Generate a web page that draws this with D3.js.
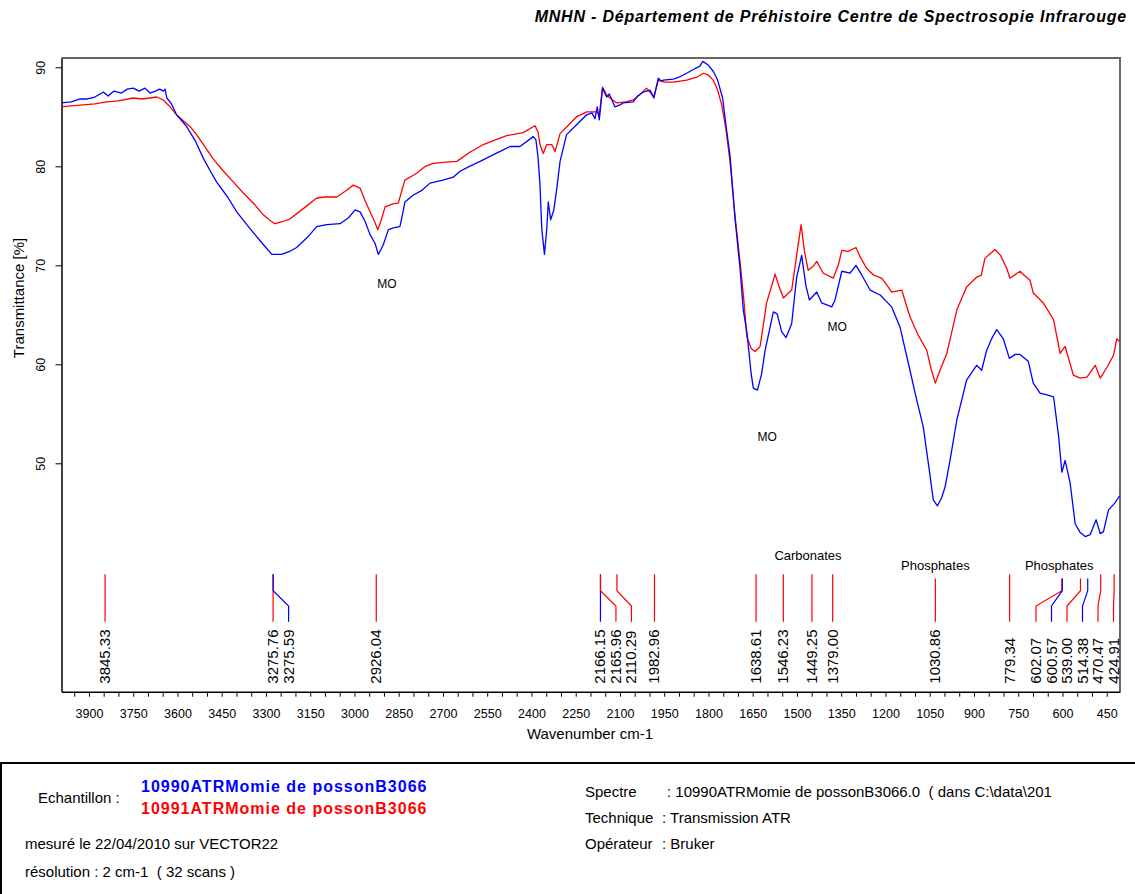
<!DOCTYPE html>
<html>
<head>
<meta charset="utf-8">
<script src="https://cdn.jsdelivr.net/npm/d3@7"></script>
<style>
  body { margin: 0; background: #fff; }
  svg text { font-family: "Liberation Sans", Arial, sans-serif; fill: #000; }
</style>
</head>
<body>
<div id="chart"></div>
<script>
// spectre 10990 (bleu)
const blueWavenumbers = [3993, 3960, 3930, 3905, 3880, 3851, 3835, 3815, 3790, 3770, 3750, 3730, 3710, 3693, 3675, 3660, 3648, 3642, 3636, 3620,
  3603, 3585, 3569, 3540, 3512, 3490, 3467, 3430, 3399, 3354, 3309, 3280, 3247, 3220, 3196, 3160, 3128, 3094, 3049, 3020,
  2998, 2981, 2965, 2947, 2930, 2919, 2910, 2902, 2885, 2865, 2846, 2838, 2829, 2800, 2770, 2744, 2700, 2665, 2642, 2610,
  2574, 2520, 2473, 2439, 2394, 2385, 2378, 2371, 2365, 2356, 2348, 2343, 2335, 2324, 2314, 2303, 2281, 2247, 2213, 2195,
  2185, 2177, 2170, 2159, 2150, 2145, 2136, 2117, 2100, 2089, 2055, 2040, 2021, 1998, 1985, 1970, 1960, 1953, 1919, 1900,
  1874, 1850, 1830, 1819, 1800, 1784, 1770, 1752, 1740, 1727, 1710, 1693, 1682, 1670, 1655, 1648, 1634, 1620, 1608, 1580,
  1567, 1552, 1537, 1518, 1501, 1484, 1470, 1458, 1433, 1416, 1382, 1371, 1348, 1320, 1300, 1280, 1252, 1218, 1179, 1151,
  1117, 1095, 1072, 1050, 1038, 1024, 1010, 998, 980, 958, 925, 891, 874, 857, 840, 823, 801, 780, 760, 744,
  716, 699, 676, 653, 630, 613, 602, 591, 574, 557, 540, 523, 506, 486, 472, 461, 444, 422, 407];
const blueTransmittance = [86.4, 86.5, 86.8, 86.8, 87.0, 87.5, 87.1, 87.6, 87.4, 87.8, 87.9, 87.6, 87.9, 87.4, 87.6, 87.8, 87.6, 87.8, 86.9, 86.3,
  85.2, 84.6, 84.0, 82.6, 80.8, 79.6, 78.4, 76.9, 75.4, 73.7, 72.1, 71.1, 71.1, 71.4, 71.8, 72.8, 73.9, 74.1, 74.2, 74.8,
  75.6, 75.4, 74.5, 73.1, 72.2, 71.1, 71.6, 72.1, 73.6, 73.8, 73.9, 75.0, 76.4, 77.1, 77.6, 78.3, 78.6, 78.9, 79.5, 80.0,
  80.5, 81.3, 82.0, 82.0, 83.0, 82.7, 81.0, 78.1, 73.7, 71.1, 73.7, 76.4, 74.6, 75.6, 77.8, 80.5, 83.2, 84.2, 85.2, 85.4,
  84.8, 86.0, 84.7, 87.9, 87.3, 87.0, 87.3, 86.0, 86.2, 86.4, 86.5, 87.1, 87.5, 87.7, 86.9, 88.9, 88.6, 88.7, 88.8, 89.0,
  89.4, 89.8, 90.1, 90.6, 90.2, 89.6, 88.8, 86.9, 84.0, 81.1, 74.7, 69.7, 65.5, 63.3, 59.0, 57.6, 57.4, 59.0, 61.4, 65.3,
  65.1, 63.3, 62.7, 64.1, 68.8, 71.0, 68.0, 66.5, 67.3, 66.2, 65.8, 66.5, 69.4, 69.2, 70.0, 69.0, 67.5, 67.0, 65.8, 63.8,
  59.4, 56.5, 53.7, 49.0, 46.3, 45.7, 46.5, 47.6, 50.5, 54.4, 58.4, 59.9, 59.4, 61.4, 62.6, 63.5, 62.6, 60.6, 61.0, 61.0,
  60.3, 58.1, 57.1, 56.9, 56.7, 52.7, 49.1, 50.3, 48.0, 43.9, 43.0, 42.6, 42.8, 44.3, 42.9, 43.1, 45.3, 46.0, 46.7];

// spectre 10991 (rouge)
const redWavenumbers = [3993, 3960, 3919, 3880, 3840, 3800, 3750, 3720, 3693, 3670, 3648, 3625, 3603, 3580, 3557, 3535, 3512, 3480, 3444, 3410,
  3377, 3340, 3309, 3285, 3269, 3245, 3218, 3170, 3128, 3100, 3060, 3030, 3004, 2981, 2965, 2947, 2930, 2921, 2910, 2896,
  2870, 2851, 2840, 2829, 2789, 2760, 2733, 2700, 2653, 2610, 2563, 2520, 2484, 2428, 2388, 2378, 2371, 2360, 2348, 2331,
  2320, 2303, 2280, 2247, 2213, 2179, 2170, 2159, 2145, 2134, 2111, 2080, 2055, 2030, 2010, 1985, 1970, 1950, 1919, 1874,
  1840, 1817, 1800, 1784, 1770, 1755, 1740, 1727, 1710, 1693, 1680, 1670, 1655, 1642, 1625, 1603, 1574, 1560, 1546, 1518,
  1501, 1486, 1475, 1462, 1445, 1433, 1411, 1377, 1360, 1348, 1326, 1300, 1285, 1264, 1240, 1213, 1195, 1179, 1145, 1117,
  1090, 1060, 1045, 1031, 1015, 992, 958, 925, 891, 875, 863, 829, 810, 789, 778, 744, 730, 710, 699, 665,
  630, 608, 591, 563, 540, 517, 489, 472, 449, 427, 416, 407];
const redTransmittance = [86.0, 86.1, 86.2, 86.3, 86.5, 86.6, 86.9, 86.8, 86.9, 87.0, 86.7, 86.0, 85.2, 84.6, 84.0, 83.2, 82.2, 80.8, 79.5, 78.4,
  77.3, 76.2, 75.1, 74.5, 74.2, 74.4, 74.7, 75.8, 76.8, 76.9, 76.9, 77.5, 78.1, 77.8, 76.6, 75.4, 74.3, 73.6, 74.5, 75.9,
  76.2, 76.3, 77.5, 78.6, 79.3, 80.0, 80.3, 80.4, 80.5, 81.4, 82.2, 82.7, 83.1, 83.4, 84.1, 83.5, 82.2, 81.3, 82.2, 82.2,
  81.5, 83.3, 84.0, 85.0, 85.5, 85.5, 85.2, 88.0, 87.2, 86.9, 86.4, 86.5, 86.7, 87.3, 87.9, 87.0, 88.7, 88.5, 88.5, 88.7,
  89.0, 89.4, 89.2, 88.7, 87.8, 86.2, 83.6, 80.5, 75.0, 70.4, 66.5, 62.8, 61.6, 61.3, 61.8, 66.2, 69.1, 67.8, 66.7, 67.5,
  71.0, 74.1, 71.5, 69.5, 69.9, 70.4, 69.2, 68.7, 70.0, 71.5, 71.4, 71.8, 70.8, 69.7, 69.0, 68.7, 68.0, 67.3, 67.5, 64.8,
  63.0, 61.4, 59.5, 58.1, 59.4, 61.1, 65.5, 67.8, 68.8, 69.0, 70.7, 71.6, 71.0, 69.7, 68.7, 69.4, 69.0, 68.5, 67.2, 66.2,
  64.5, 61.1, 61.8, 58.9, 58.6, 58.7, 59.9, 58.6, 59.7, 60.9, 62.6, 62.3];

const xTickLabels = [3900, 3750, 3600, 3450, 3300, 3150, 3000, 2850, 2700, 2550, 2400, 2250, 2100, 1950, 1800, 1650, 1500, 1350, 1200, 1050, 900, 750, 600, 450];
const yTickLabels = [50, 60, 70, 80, 90];

// pics annotés (0 = 10990 bleu, 1 = 10991 rouge)
const peakWavenumbers = [3845.33, 3275.76, 3275.59, 2926.04, 2166.15, 2165.96, 2110.29, 1982.96, 1638.61, 1546.23,
  1449.25, 1379.00, 1030.86, 779.34, 602.07, 600.57, 539.00, 514.38, 470.47, 424.91];
const peakSample = [1, 1, 0, 1, 0, 1, 1, 1, 1, 1, 1, 1, 1, 1, 1, 0, 1, 0, 1, 1];

const groupNames = ['Carbonates', 'Phosphates', 'Phosphates'];
const groupMembers = [[1546.23, 1449.25, 1379.00], [1030.86], [602.07, 600.57, 539.00, 514.38]];

const moWavenumbers = [2890, 1601, 1364];
const moTransmittance = [68.1, 52.7, 63.8];

const sampleNames = ['10990ATRMomie de possonB3066', '10991ATRMomie de possonB3066'];
const sampleColors = ['#0000ff', '#ff0000'];

const width = 1135;
const height = 894;
const margin = { top: 58, right: 15, left: 61.5 };
const plotBottom = 691.7;

const svg = d3.select('#chart').append('svg')
  .attr('width', width)
  .attr('height', height);

const x = d3.scaleLinear().domain([3993, 405]).range([margin.left, width - margin.right]);
const y = d3.scaleLinear().domain([26.93, 90.94]).range([plotBottom, margin.top]);

// titre
svg.append('text')
  .attr('x', 1127).attr('y', 22)
  .attr('text-anchor', 'end')
  .style('font-size', '16px').style('font-weight', 'bold').style('font-style', 'italic')
  .style('letter-spacing', '0.8px')
  .text('MNHN - Département de Préhistoire Centre de Spectrosopie Infrarouge');

// cadre haut / droite
svg.append('path')
  .attr('d', `M${margin.left},${margin.top}H${width - margin.right}V${plotBottom}`)
  .attr('fill', 'none').attr('stroke', '#666').attr('stroke-width', 2);

// axes
const minorTicks = d3.range(3950, 449, -50);
const xAxis = svg.append('g')
  .attr('transform', `translate(0,${plotBottom})`)
  .call(d3.axisBottom(x).tickValues(minorTicks).tickSize(5).tickSizeOuter(0).tickPadding(12)
    .tickFormat(d => xTickLabels.includes(d) ? d : ''));
xAxis.selectAll('text').style('font-size', '12.5px');
xAxis.select('.domain').attr('stroke-width', 1.5);

const yAxis = svg.append('g')
  .attr('transform', `translate(${margin.left},0)`)
  .call(d3.axisLeft(y).tickValues(yTickLabels).tickSize(6).tickSizeOuter(0));
yAxis.select('.domain').attr('stroke-width', 1.5);
yAxis.selectAll('text')
  .attr('x', null).attr('dy', null)
  .attr('y', -16.5)
  .attr('transform', 'rotate(-90)')
  .attr('text-anchor', 'middle')
  .style('font-size', '12.5px');

svg.append('text')
  .attr('transform', 'translate(24,298) rotate(-90)')
  .attr('text-anchor', 'middle')
  .style('font-size', '15px')
  .text('Transmittance [%]');

svg.append('text')
  .attr('x', 590).attr('y', 739)
  .attr('text-anchor', 'middle')
  .style('font-size', '15px')
  .text('Wavenumber cm-1');

// spectres
svg.append('clipPath').attr('id', 'clip')
  .append('rect')
  .attr('x', margin.left).attr('y', margin.top)
  .attr('width', width - margin.right - margin.left).attr('height', plotBottom - margin.top);

const line = d3.line().x(d => x(d[0])).y(d => y(d[1]));
const spectra = [
  d3.zip(redWavenumbers, redTransmittance),
  d3.zip(blueWavenumbers, blueTransmittance)
];
const spectraColors = [sampleColors[1], sampleColors[0]];
svg.append('g').attr('clip-path', 'url(#clip)')
  .selectAll('path')
  .data(spectra)
  .join('path')
  .attr('d', line)
  .attr('fill', 'none')
  .attr('stroke', (d, i) => spectraColors[i])
  .attr('stroke-width', 1.3)
  .attr('stroke-linejoin', 'round');

// MO
svg.selectAll('.mo')
  .data(d3.zip(moWavenumbers, moTransmittance))
  .join('text')
  .attr('class', 'mo')
  .attr('x', d => x(d[0])).attr('y', d => y(d[1]) + 4)
  .attr('text-anchor', 'middle')
  .style('font-size', '12px')
  .text('MO');

// pics : placement des étiquettes sans chevauchement
const minGap = 15.5;
const peaks = peakWavenumbers.map((w, i) => ({ w, sample: peakSample[i], px: x(w) }))
  .sort((a, b) => a.px - b.px);
peaks.forEach((p, i) => {
  p.lx = i === 0 ? p.px : Math.max(p.px, peaks[i - 1].lx + minGap);
});
const maxLx = width - margin.right - 6.5;
for (let i = peaks.length - 1; i >= 0; i--) {
  const limit = i === peaks.length - 1 ? maxLx : peaks[i + 1].lx - minGap;
  peaks[i].lx = Math.min(peaks[i].lx, limit);
}

const groupOffsets = [131.7, 121.7, 121.7];
const lineTopDefault = plotBottom - 117.4;
const elbow1 = plotBottom - 101;
const elbow2 = plotBottom - 85.7;
const lineBottom = plotBottom - 70;
const labelBase = plotBottom - 8;

peaks.forEach(p => {
  const gi = groupMembers.findIndex(m => m.includes(p.w));
  p.top = gi < 0 ? lineTopDefault : Math.max(lineTopDefault, plotBottom - groupOffsets[gi] + 8.5);
});

svg.append('g').selectAll('path')
  .data(peaks)
  .join('path')
  .attr('d', p => d3.line()([[p.px, p.top], [p.px, elbow1], [p.lx, elbow2], [p.lx, lineBottom]]))
  .attr('fill', 'none')
  .attr('stroke', p => sampleColors[p.sample])
  .attr('stroke-width', 1.2);

svg.append('g').selectAll('text')
  .data(peaks)
  .join('text')
  .attr('transform', p => `translate(${p.lx + 5},${labelBase}) rotate(-90)`)
  .style('font-size', '15px')
  .text(p => p.w.toFixed(2));

groupNames.forEach((name, gi) => {
  const members = peaks.filter(p => groupMembers[gi].includes(p.w));
  const ext = d3.extent(members, p => p.lx);
  svg.append('text')
    .attr('x', (ext[0] + ext[1]) / 2)
    .attr('y', plotBottom - groupOffsets[gi])
    .attr('text-anchor', 'middle')
    .style('font-size', '13px')
    .text(name);
});

// cartouche du bas
svg.append('rect')
  .attr('x', 1).attr('y', 763)
  .attr('width', width + 10).attr('height', 200)
  .attr('fill', 'none').attr('stroke', '#000').attr('stroke-width', 2);

const info = svg.append('g').style('font-size', '15px');
info.append('text').attr('x', 38).attr('y', 803).text('Echantillon :');
sampleNames.forEach((name, i) => {
  info.append('text')
    .attr('x', 141).attr('y', 791.5 + i * 22)
    .style('font-size', '16px').style('font-weight', 'bold').style('letter-spacing', '1px')
    .style('fill', sampleColors[i])
    .text(name);
});
info.append('text').attr('x', 25).attr('y', 849).text('mesuré le 22/04/2010 sur VECTOR22');
info.append('text').attr('x', 25).attr('y', 877).text('résolution : 2 cm-1  ( 32 scans )').style('white-space', 'pre');

const rightRows = [
  ['Spectre', ': 10990ATRMomie de possonB3066.0  ( dans C:\\data\\201', 667],
  ['Technique', ': Transmission ATR', 662],
  ['Opérateur', ': Bruker', 662]
];
rightRows.forEach((r, i) => {
  const yy = 797 + i * 26;
  info.append('text').attr('x', 585).attr('y', yy).text(r[0]);
  info.append('text').attr('x', r[2]).attr('y', yy).style('white-space', 'pre').text(r[1]);
});
</script>
</body>
</html>
